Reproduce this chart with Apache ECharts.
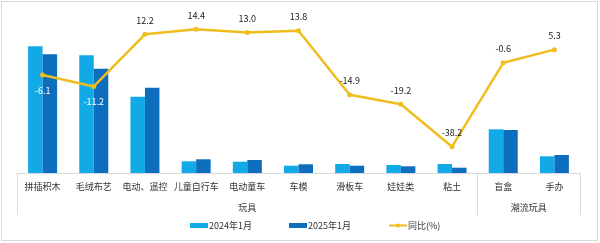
<!DOCTYPE html>
<html><head><meta charset="utf-8">
<script src="https://cdn.jsdelivr.net/npm/echarts@6/dist/echarts.min.js"></script>
<style>
html,body{margin:0;padding:0;background:#fff;}
#frame{position:absolute;left:1px;top:1px;width:595px;height:238px;border:1px solid #d9d9d9;}
#c{position:absolute;left:0;top:0;width:600px;height:243px;}
</style></head>
<body>
<div id="frame"></div>
<div id="c"></div>
<script>
const categories = ['拼插积木','毛绒布艺','电动、遥控','儿童自行车','电动童车','车模','滑板车','娃娃类','粘土','盲盒','手办'];
const groups = ['玩具','潮流玩具'];
const groupSizes = [9, 2];
const sales2024 = [126.7, 117.7, 76.3, 11.7, 11.3, 7.3, 9.0, 8.0, 9.0, 43.7, 16.7];
const sales2025 = [118.7, 104.3, 85.3, 13.7, 13.0, 8.7, 7.3, 6.7, 5.3, 43.0, 18.0];
const yoy = [-6.1, -11.2, 12.2, 14.4, 13.0, 13.8, -14.9, -19.2, -38.2, -0.6, 5.3];
const legendNames = ['2024年1月','2025年1月','同比(%)'];

const FONT = '"Noto Sans CJK SC", "Noto Sans", sans-serif';
const FS = 9;
const boundaries = [0];
groupSizes.forEach((s,i)=>boundaries.push(boundaries[i]+s));
const groupCenters = groupSizes.map((s,i)=>boundaries[i]+s/2);

const chart = echarts.init(document.getElementById('c'), null, {renderer:'canvas'});
chart.setOption({
  animation:false,
  textStyle:{fontFamily:FONT},
  grid:{left:17, right:20, top:20, bottom:70},
  legend:{
    bottom:8, left:185,
    itemWidth:18, itemHeight:5, itemGap:37,
    textStyle:{fontSize:FS, color:'#333', fontFamily:FONT, padding:[0,0,0,-4]},
    data:[{name:legendNames[0], icon:'rect'},{name:legendNames[1], icon:'rect'},{name:legendNames[2]}]
  },
  xAxis:[
    {type:'category', data:categories, position:'bottom',
     axisLine:{show:true, onZero:false, lineStyle:{color:'#d9d9d9'}},
     axisTick:{show:false},
     axisLabel:{fontSize:FS, color:'#333', margin:9, interval:0, fontFamily:FONT}},
    {type:'value', min:0, max:boundaries[boundaries.length-1], position:'bottom', offset:0,
     axisLine:{show:false, onZero:false},
     splitLine:{show:false},
     axisTick:{show:true, length:42, customValues:boundaries, lineStyle:{color:'#d9d9d9'}},
     axisLabel:{show:true, customValues:groupCenters, margin:30, fontSize:FS, color:'#333', fontFamily:FONT,
       formatter:(v)=>{const i=groupCenters.indexOf(v); return i>=0?groups[i]:'';}}}
  ],
  yAxis:[
    {type:'value', min:0, max:153, show:false},
    {type:'value', min:-50, max:18.6, show:false}
  ],
  series:[
    {name:legendNames[0], type:'bar', data:sales2024, barWidth:14.5, barGap:'0%', itemStyle:{color:'#12AAE6'}},
    {name:legendNames[1], type:'bar', data:sales2025, barWidth:14.5, barGap:'0%', itemStyle:{color:'#0D6EBE'}},
    {name:legendNames[2], type:'line', yAxisIndex:1, data:yoy.map((v,i)=>{
        const below = i<2;
        return {value:v, label:{position: below?'bottom':'top', color: below?'#fff':'#222', distance: below?8:7}};
      }),
     symbol:'circle', symbolSize:5,
     lineStyle:{color:'#EFBE1E', width:2.5},
     itemStyle:{color:'#EFBE1E'},
     label:{show:true, fontSize:FS, fontFamily:FONT, formatter:(p)=>p.value.toFixed(1)}}
  ]
});
</script>
</body></html>
